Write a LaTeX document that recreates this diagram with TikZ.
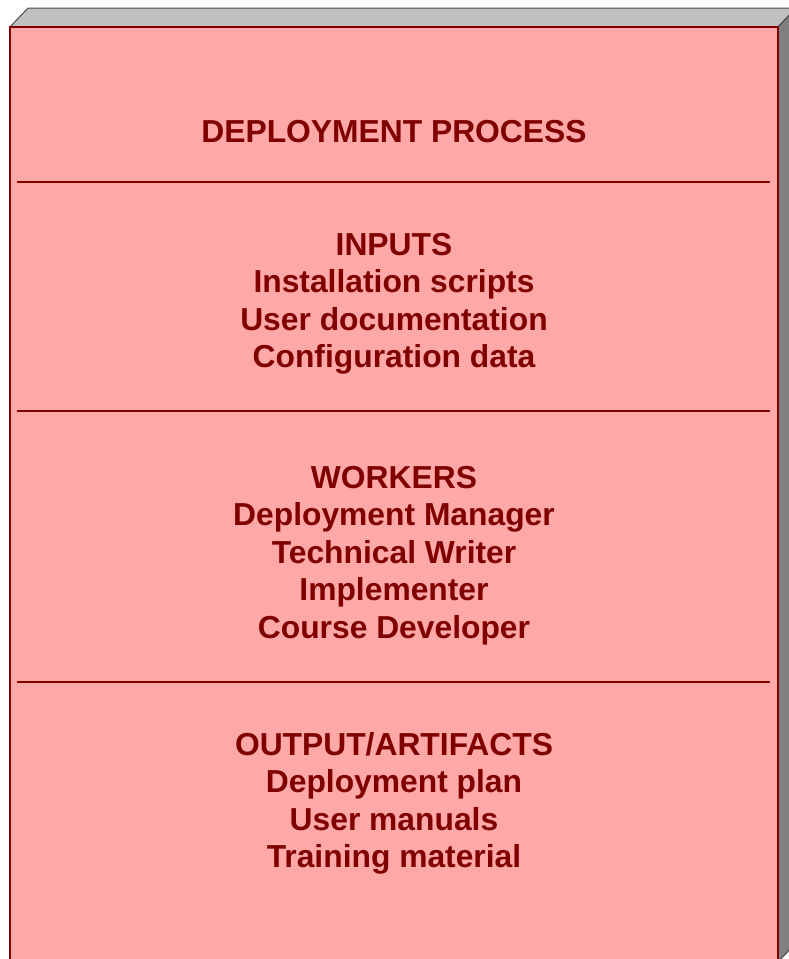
\documentclass[tikz,border=0pt]{standalone}
\usepackage{fontspec}
\setmainfont{Liberation Sans}
\usetikzlibrary{calc}
\definecolor{boxred}{RGB}{255,168,168}
\definecolor{darkred}{RGB}{128,0,0}
\definecolor{topgray}{RGB}{192,192,192}
\definecolor{sidegray}{RGB}{128,128,128}

\begin{document}
\begin{tikzpicture}[x=1pt,y=-1pt,
	every node/.style={anchor=base,inner sep=0pt,text=darkred,
		font=\bfseries\fontsize{31.8}{37.5}\selectfont},
	sepline/.style={draw=darkred,line width=2.5pt}]
\useasboundingbox (0,0) rectangle (789,959);
\clip (0,0) rectangle (789,959);
% the box, seen a little from above and from the right
\coordinate (FL) at (10,27);
\coordinate (FR) at (778,27);
\coordinate (BL) at (10,962);
\coordinate (BR) at (778,962);
\filldraw[fill=topgray,draw=black!70,line width=1pt] (FL) -- ++(18,-19) -- ($(FR)+(18,-19)$) -- (FR) -- cycle;
\filldraw[fill=sidegray,draw=black!70,line width=1pt] (FR) -- ++(18,-19) -- ($(BR)+(18,-19)$) -- (BR) -- cycle;
\filldraw[fill=boxred,draw=darkred,line width=2pt] (FL) rectangle (BR);
% texts
\node(title) at (394,142) {DEPLOYMENT PROCESS};
\draw[sepline] (17,182) -- (770,182);
\node(inputs) at (394,255) {INPUTS};
\node(scripts) at (394,292.5) {Installation scripts};
\node(userdoc) at (394,330) {User documentation};
\node(config) at (394,367) {Configuration data};
\draw[sepline] (17,411) -- (770,411);
\node(workers) at (394,488) {WORKERS};
\node(manager) at (394,525.5) {Deployment Manager};
\node(writer) at (394,563) {Technical Writer};
\node(implementer) at (394,600.5) {Implementer};
\node(developer) at (394,638) {Course Developer};
\draw[sepline] (17,682) -- (770,682);
\node(outputs) at (394,755) {OUTPUT/ARTIFACTS};
\node(plan) at (394,792.5) {Deployment plan};
\node(manuals) at (394,830) {User manuals};
\node(training) at (394,867) {Training material};
\end{tikzpicture}
\end{document}
